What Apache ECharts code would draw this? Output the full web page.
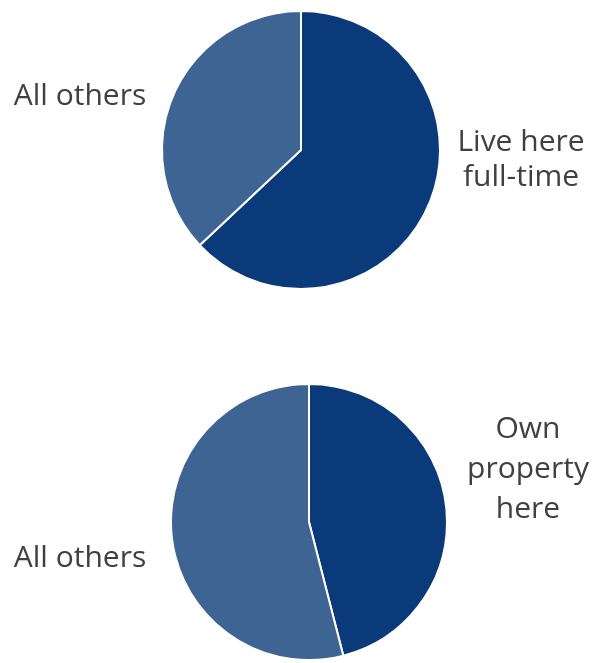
<!DOCTYPE html>
<html>
<head>
<meta charset="utf-8">
<script src="https://cdn.jsdelivr.net/npm/echarts@6/dist/echarts.min.js"></script>
<style>
html,body{margin:0;padding:0;background:#ffffff;}
#chart{width:592px;height:663px;}
</style>
</head>
<body>
<div id="chart"></div>
<script>
// Data
var residencyCategories = ['Live here\nfull-time', 'All others'];
var residencyValues = [63, 37];
var ownershipCategories = ['Own\nproperty\nhere', 'All others'];
var ownershipValues = [46, 54];

var darkBlue = '#0b3a7b';
var midBlue = '#3e6494';

function buildData(cats, vals) {
  return cats.map(function (c, i) {
    return { name: c, value: vals[i], itemStyle: { color: i === 0 ? darkBlue : midBlue } };
  });
}

// label anchor positions per series/slice
var labelPos = [
  [{ x: 521, y: 160 }, { x: 80, y: 96 }],
  [{ x: 528, y: 469 }, { x: 80, y: 558 }]
];

function labelLayout(params) {
  var p = labelPos[params.seriesIndex][params.dataIndex];
  return { x: p.x, y: p.y, align: 'center', verticalAlign: 'middle' };
}

function pieSeries(center, radius, cats, vals, lh) {
  return {
    type: 'pie',
    center: center,
    radius: radius,
    startAngle: 90,
    clockwise: true,
    silent: true,
    animation: false,
    avoidLabelOverlap: false,
    itemStyle: { borderColor: '#ffffff', borderWidth: 2 },
    label: {
      show: true,
      position: 'inside',
      formatter: '{b}',
      fontFamily: 'Open Sans',
      fontSize: 30,
      lineHeight: lh,
      color: '#404040',
      align: 'center',
      overflow: 'none'
    },
    labelLine: { show: false },
    labelLayout: labelLayout,
    data: buildData(cats, vals)
  };
}

var chart = echarts.init(document.getElementById('chart'), null, { renderer: 'canvas' });
chart.setOption({
  backgroundColor: '#ffffff',
  animation: false,
  series: [
    pieSeries([301, 150], 139, residencyCategories, residencyValues, 35),
    pieSeries([309, 522], 138, ownershipCategories, ownershipValues, 40)
  ]
});
</script>
</body>
</html>
